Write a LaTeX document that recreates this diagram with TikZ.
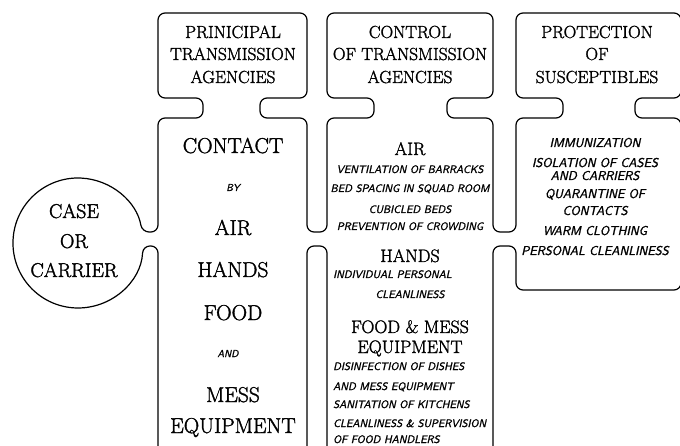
\documentclass[tikz,border=0pt]{standalone}
\usepackage{fontspec}
\usepackage{tikz}
\newfontfamily\lettering{Latin Modern Roman}[FakeBold=1.6]
\newfontfamily\handnote{Latin Modern Sans}[FakeBold=1.4,FakeSlant=0.22]

\begin{document}
\begin{tikzpicture}[x=1pt,y=-1pt]
\tikzstyle{every node}=[inner sep=0pt,anchor=base]
\tikzstyle{wall}=[line width=1.2pt,rounded corners=7pt]
\tikzstyle{head}=[font=\fontsize{17.5}{21}\lettering]
\tikzstyle{big}=[font=\fontsize{21.5}{24}\lettering]
\tikzstyle{mid}=[font=\fontsize{18}{22}\lettering]
\tikzstyle{note}=[font=\fontsize{10.8}{12}\handnote]
\tikzstyle{wide}=[font=\fontsize{12.8}{14}\handnote]
\useasboundingbox (0,0) rectangle (680,446);
\clip (0,0) rectangle (680,446);

% outline of case, headers and columns
\draw[wall] (158,452) -- (158,246) -- (142.9,246) arc[start angle=2.65,end angle=350.26,radius=65]
  -- (158,232) -- (158,118) -- (203,118) -- (203,98) -- (158,98) -- (158,13) -- (307,13) -- (307,98)
  -- (260,98) -- (260,118) -- (307,118) -- (307,232) -- (327,232) -- (327,118) -- (374,118) -- (374,98)
  -- (327,98) -- (327,13) -- (493,13) -- (493,98) -- (447,98) -- (447,118) -- (493,118) -- (493,232)
  -- (516,232) -- (516,118) -- (563,118) -- (563,98) -- (516,98) -- (516,13) -- (681,13) -- (681,98)
  -- (635,98) -- (635,118) -- (681,118) -- (681,290) -- (516,290) -- (516,246) -- (493,246) -- (493,452);
\draw[wall] (327,452) -- (327,246) -- (307,246) -- (307,452);

% case or carrier
\foreach \y/\t [count=\i] in {218/CASE, 248/OR, 277/CARRIER}
  \node[mid,font=\fontsize{20}{24}\lettering] (case\i) at (74,\y) {\t};

% principal transmission agencies
\foreach \y/\t [count=\i] in {38/PRINICIPAL, 60/TRANSMISSION, 83/AGENCIES}
  \node[head] (agency\i) at (233,\y) {\t};
\foreach \y/\t [count=\i] in {153/CONTACT, 235/AIR, 277/HANDS, 320/FOOD, 402/MESS, 433/EQUIPMENT}
  \node[big] (contact\i) at (233,\y) {\t};
\node[note,font=\fontsize{10}{12}\handnote] (by) at (233,191) {BY};
\node[note,font=\fontsize{10}{12}\handnote] (and) at (228,357) {AND};

% control of transmission agencies
\foreach \y/\t [count=\i] in {38/CONTROL, 60/OF TRANSMISSION, 83/AGENCIES}
  \node[head] (control\i) at (410,\y) {\t};
\foreach \y/\t [count=\i] in {155/AIR, 262/HANDS, 333/FOOD \& MESS, 353/EQUIPMENT}
  \node[mid] (means\i) at (410,\y) {\t};
\foreach \y/\t [count=\i] in {173/VENTILATION OF BARRACKS, 192/BED SPACING IN SQUAD ROOM,
    213/CUBICLED BEDS, 230/PREVENTION OF CROWDING, 298/CLEANLINESS}
  \node[note] (airnote\i) at (410,\y) {\t};
\node[note,anchor=base west] (handnote) at (333,278) {INDIVIDUAL PERSONAL};
\foreach \y/\t [count=\i] in {370/DISINFECTION OF DISHES, 390/AND MESS EQUIPMENT,
    408/SANITATION OF KITCHENS, 427/CLEANLINESS \& SUPERVISION, 443/OF FOOD HANDLERS}
  \node[note,anchor=base west] (foodnote\i) at (333,\y) {\t};

% protection of susceptibles
\foreach \y/\t [count=\i] in {38/PROTECTION, 60/OF, 83/SUSCEPTIBLES}
  \node[head] (protect\i) at (597,\y) {\t};
\foreach \y/\t [count=\i] in {147/IMMUNIZATION, 167/ISOLATION OF CASES, 180/AND CARRIERS,
    198/QUARANTINE OF, 215/CONTACTS, 235/WARM CLOTHING, 255/PERSONAL CLEANLINESS}
  \node[wide] (shield\i) at (595,\y) {\t};

\end{tikzpicture}
\end{document}
